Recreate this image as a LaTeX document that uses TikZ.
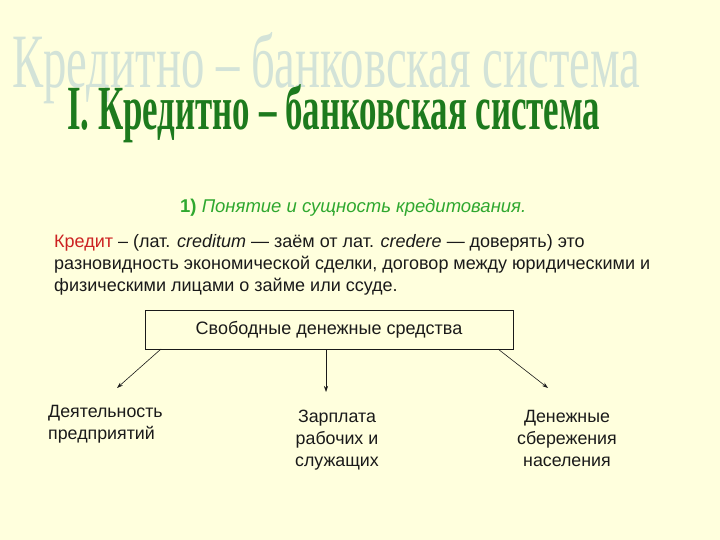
\documentclass[tikz,border=0pt]{standalone}
\usepackage{fontspec}
\usepackage{graphicx}
\setmainfont{Liberation Sans}
\newfontfamily\titleserif{Liberation Serif}
\usetikzlibrary{arrows.meta}
\definecolor{bg}{HTML}{FFFFDD}
\definecolor{wmark}{HTML}{D3E3D8}
\definecolor{titlegreen}{HTML}{1D7A1D}
\definecolor{subgreen}{HTML}{2FA82F}
\definecolor{creditred}{HTML}{CC2222}
\definecolor{ink}{HTML}{1A1A1A}
\tikzset{
  bodytext/.style={font=\fontsize{18}{22}\selectfont, text=ink, inner sep=0pt},
  labeltext/.style={font=\fontsize{17.8}{22}\selectfont, text=ink, inner sep=0pt},
  boxnode/.style={draw=ink, line width=0.6pt, fill=bg, minimum width=368pt, minimum height=39pt, inner sep=0pt, font=\fontsize{18}{20}\selectfont, text=ink},
  flowarrow/.style={draw=ink, line width=0.6pt, -{Stealth[length=6pt,width=4pt]}}
}
\begin{document}
\begin{tikzpicture}[x=1pt,y=-1pt]
\fill[bg] (0,0) rectangle (720,540);
\useasboundingbox (0,0) rectangle (720,540);
% watermark
\node[anchor=base west, inner sep=0pt, text=wmark] (wm) at (12,88)
  {\resizebox{628pt}{55pt}{\titleserif Кредитно – банковская система}};
% main title
\node[anchor=base west, inner sep=0pt, text=titlegreen] (title) at (67,130)
  {\resizebox{533pt}{45pt}{\titleserif\bfseries I. Кредитно – банковская система}};
% subtitle
\node[anchor=base west, inner sep=0pt, text=subgreen, font=\fontsize{18.5}{20}\selectfont] (sub) at (180,212)
  {\textbf{1)} \itshape Понятие и сущность кредитования.};
% body text (base = last line)
\node[bodytext, anchor=base west, align=left] (body) at (54,291)
  {\textcolor{creditred}{Кредит} – (лат. \textit{creditum} — заём от лат. \textit{credere} — доверять) это\\
   разновидность экономической сделки, договор между юридическими и\\
   физическими лицами о займе или ссуде.};
% box
\node[boxnode] (box) at (329,329.5) {Свободные денежные средства};
% arrows
\coordinate (a1s) at (161,349);
\coordinate (a2s) at (326,349);
\coordinate (a3s) at (498,349);
\coordinate (a1e) at (117,388);
\coordinate (a2e) at (326,392);
\coordinate (a3e) at (548,388);
\draw[flowarrow] (a1s) -- (a1e);
\draw[flowarrow] (a2s) -- (a2e);
\draw[flowarrow] (a3s) -- (a3e);
% labels (base = last line)
\node[labeltext, anchor=base west, align=left] (l1) at (48,439) {Деятельность\\предприятий};
\node[labeltext, anchor=base, align=center] (l2) at (337,466) {Зарплата\\рабочих и\\служащих};
\node[labeltext, anchor=base, align=center] (l3) at (567,466) {Денежные\\сбережения\\населения};
\end{tikzpicture}
\end{document}
